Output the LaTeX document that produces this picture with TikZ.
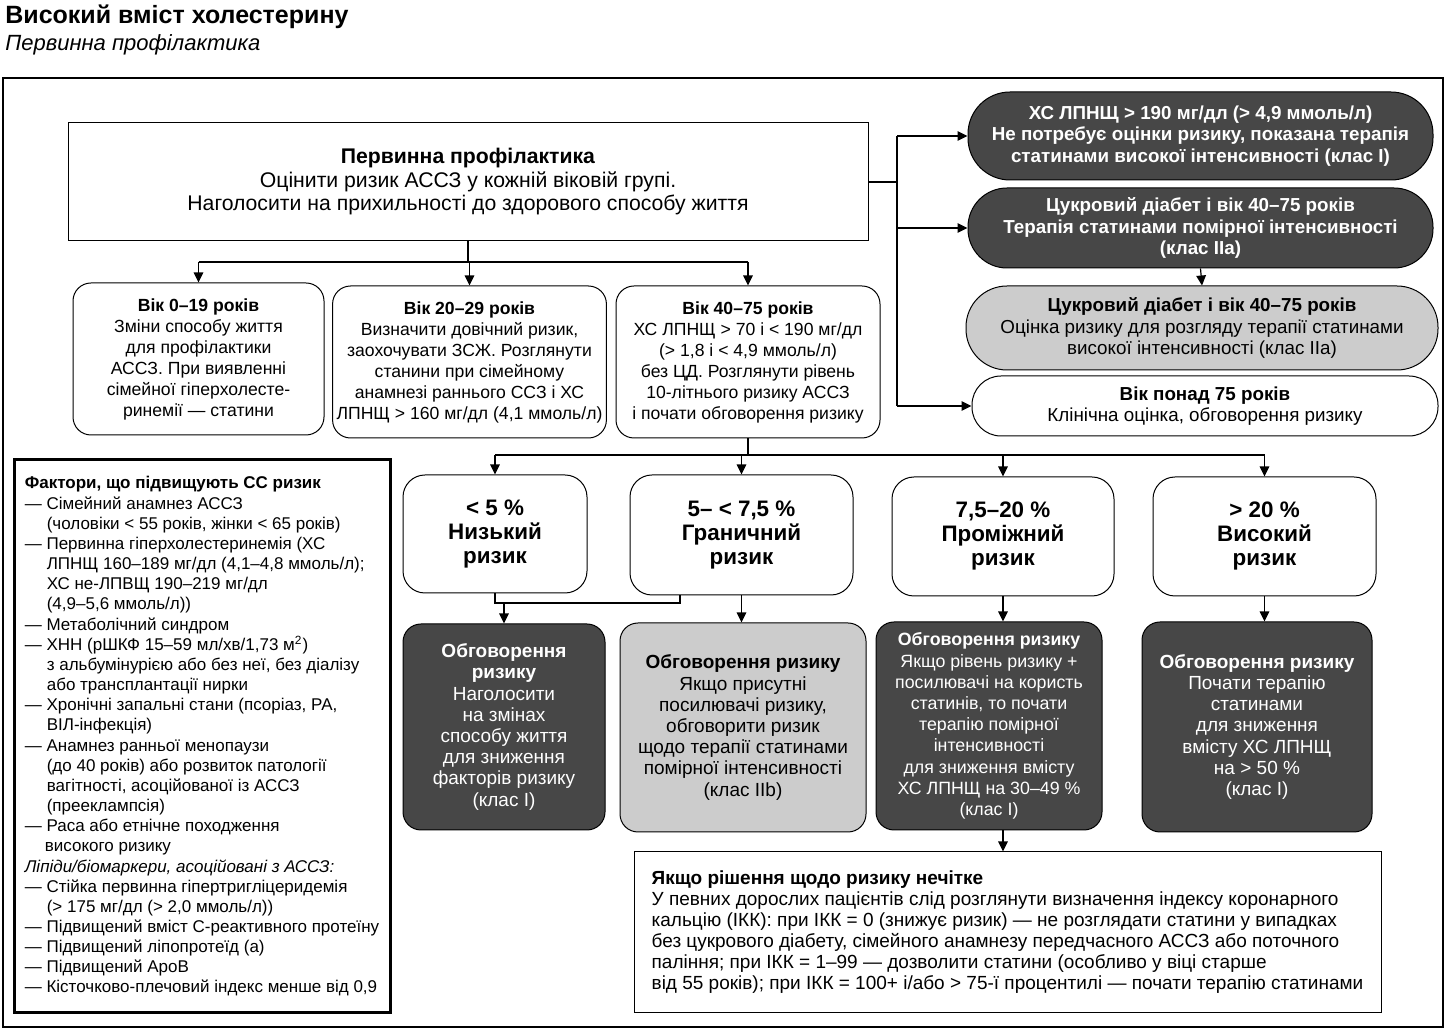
\documentclass[tikz,border=0pt]{standalone}
\usepackage{fontspec}
\setmainfont{Liberation Sans}
\usetikzlibrary{arrows.meta}
\definecolor{boxdark}{HTML}{474747}
\definecolor{boxgrey}{HTML}{CCCCCC}

\begin{document}
\begin{tikzpicture}[x=0.5pt,y=-0.5pt,
  plainbox/.style={draw, line width=0.5pt, align=center, inner sep=2pt},
  agebox/.style={plainbox, rounded corners=9pt, font=\fontsize{8.8}{10.5}\selectfont},
  pill/.style={plainbox, rounded corners=#1, font=\fontsize{9.4}{10.6}\selectfont},
  darkpill/.style={pill=#1, fill=boxdark, text=white, font=\bfseries\fontsize{9.4}{10.9}\selectfont},
  riskbox/.style={plainbox, rounded corners=11pt, font=\bfseries\fontsize{11.2}{12}\selectfont},
  talkbox/.style={plainbox, rounded corners=9pt, font=\fontsize{9.5}{10.6}\selectfont},
  darkfill/.style={fill=boxdark, text=white},
  greyfill/.style={fill=boxgrey},
  arr/.style={-{Triangle[length=5pt,width=4.8pt]}, line width=0.6pt},
  link/.style={line width=0.6pt}]
  \useasboundingbox (0,0) rectangle (1448,1031);

  % Title and frame
  \node (title) [anchor=base west, inner sep=0pt, font=\bfseries\fontsize{12.5}{15}\selectfont] at (5,24) {Високий вміст холестерину};
  \node (subtitle) [anchor=base west, inner sep=0pt, font=\itshape\fontsize{11}{13}\selectfont] at (5,51) {Первинна профілактика};
  \draw[line width=0.75pt] (3,78) rectangle (1443,1027);

  % Define nodes
  \node (prim) [plainbox, minimum width=400pt, minimum height=59pt, font=\fontsize{10.6}{11.75}\selectfont] at (468,182)
    {\textbf{Первинна профілактика}\\Оцінити ризик АССЗ у кожній віковій групі.\\Наголосити на прихильності до здорового способу життя};

  \node (ldl) [darkpill=21pt, minimum width=232.5pt, minimum height=44pt] at (1200.5,136)
    {ХС ЛПНЩ > 190 мг/дл (> 4,9 ммоль/л)\\Не потребує оцінки ризику, показана терапія\\статинами високої інтенсивності (клас І)};
  \node (dm1) [darkpill=19.5pt, minimum width=232.5pt, minimum height=40pt] at (1200.5,228)
    {Цукровий діабет і вік 40–75 років\\Терапія статинами помірної інтенсивності\\(клас ІІа)};
  \node (dm2) [pill=20.5pt, greyfill, minimum width=236pt, minimum height=42pt] at (1202,328)
    {\textbf{Цукровий діабет і вік 40–75 років}\\Оцінка ризику для розгляду терапії статинами\\високої інтенсивності (клас ІІа)};
  \node (old) [pill=14.5pt, minimum width=233pt, minimum height=30pt] at (1205,406)
    {\textbf{Вік понад 75 років}\\Клінічна оцінка, обговорення ризику};

  \node (ageA) [agebox, minimum width=125.5pt, minimum height=76pt] at (198.5,359)
    {\textbf{Вік 0–19 років}\\Зміни способу життя\\для профілактики\\АССЗ. При виявленні\\сімейної гіперхолесте-\\ринемії — статини};
  \node (ageB) [agebox, minimum width=136.5pt, minimum height=76pt] at (469.5,362)
    {\textbf{Вік 20–29 років}\\Визначити довічний ризик,\\заохочувати ЗСЖ. Розглянути\\станини при сімейному\\анамнезі раннього ССЗ і ХС\\ЛПНЩ > 160 мг/дл (4,1 ммоль/л)};
  \node (ageC) [agebox, minimum width=132pt, minimum height=76pt] at (748,362)
    {\textbf{Вік 40–75 років}\\ХС ЛПНЩ > 70 і < 190 мг/дл\\(> 1,8 і < 4,9 ммоль/л)\\без ЦД. Розглянути рівень\\10-літнього ризику АССЗ\\і почати обговорення ризику};

  \node (rlow) [riskbox, minimum width=92pt, minimum height=59pt] at (495,534) {< 5 \%\\Низький\\ризик};
  \node (rbord) [riskbox, minimum width=111.5pt, minimum height=60pt] at (741.5,535) {5– < 7,5 \%\\Граничний\\ризик};
  \node (rmid) [riskbox, minimum width=111pt, minimum height=59.5pt] at (1003,536.5) {7,5–20 \%\\Проміжний\\ризик};
  \node (rhigh) [riskbox, minimum width=111.5pt, minimum height=59.5pt] at (1264.5,536.5) {> 20 \%\\Високий\\ризик};

  \node (dlow) [talkbox, darkfill, minimum width=101pt, minimum height=103pt] at (504,727)
    {\textbf{Обговорення}\\\textbf{ризику}\\Наголосити\\на змінах\\способу життя\\для зниження\\факторів ризику\\(клас І)};
  \node (dbord) [talkbox, greyfill, minimum width=123pt, minimum height=104.5pt] at (743,727.5)
    {\textbf{Обговорення ризику}\\Якщо присутні\\посилювачі ризику,\\обговорити ризик\\щодо терапії статинами\\помірної інтенсивності\\(клас ІІb)};
  \node (dmid) [talkbox, darkfill, minimum width=113pt, minimum height=104pt, font=\fontsize{8.9}{10.6}\selectfont] at (989,726)
    {\textbf{Обговорення ризику}\\Якщо рівень ризику +\\посилювачі на користь\\статинів, то почати\\терапію помірної\\інтенсивності\\для зниження вмісту\\ХС ЛПНЩ на 30–49 \%\\(клас І)};
  \node (dhigh) [talkbox, darkfill, minimum width=115pt, minimum height=105pt] at (1257,727)
    {\textbf{Обговорення ризику}\\Почати терапію\\статинами\\для зниження\\вмісту ХС ЛПНЩ\\на > 50 \%\\(клас І)};

  \node (cac) [plainbox, align=left, minimum width=373.5pt, minimum height=80.5pt, font=\fontsize{9.5}{10.5}\selectfont] at (1007.5,932.5)
    {\textbf{Якщо рішення щодо ризику нечітке}\\
     У певних дорослих пацієнтів слід розглянути визначення індексу коронарного\\
     кальцію (ІКК): при ІКК = 0 (знижує ризик) — не розглядати статини у випадках\\
     без цукрового діабету, сімейного анамнезу передчасного АССЗ або поточного\\
     паління; при ІКК = 1–99 — дозволити статини (особливо у віці старше\\
     від 55 років); при ІКК = 100+ і/або > 75-ї процентилі — почати терапію статинами};

  \node (fac) [plainbox, line width=1.5pt, align=left, minimum width=188pt, minimum height=276.5pt, font=\fontsize{8.5}{10.08}\selectfont] at (202,736.5)
    {\textbf{Фактори, що підвищують СС ризик}\\
     — Сімейний анамнез АССЗ\\
     \hspace*{11pt}(чоловіки < 55 років, жінки < 65 років)\\
     — Первинна гіперхолестеринемія (ХС\\
     \hspace*{11pt}ЛПНЩ 160–189 мг/дл (4,1–4,8 ммоль/л);\\
     \hspace*{11pt}ХС не-ЛПВЩ 190–219 мг/дл\\
     \hspace*{11pt}(4,9–5,6 ммоль/л))\\
     — Метаболічний синдром\\
     — ХНН (рШКФ 15–59 мл/хв/1,73 м\textsuperscript{2})\\
     \hspace*{11pt}з альбумінурією або без неї, без діалізу\\
     \hspace*{11pt}або трансплантації нирки\\
     — Хронічні запальні стани (псоріаз, РА,\\
     \hspace*{11pt}ВІЛ-інфекція)\\
     — Анамнез ранньої менопаузи\\
     \hspace*{11pt}(до 40 років) або розвиток патології\\
     \hspace*{11pt}вагітності, асоційованої із АССЗ\\
     \hspace*{11pt}(прееклампсія)\\
     — Раса або етнічне походження\\
     \hspace*{10pt}високого ризику\\
     \textit{Ліпіди/біомаркери, асоційовані з АССЗ:}\\
     — Стійка первинна гіпертригліцеридемія\\
     \hspace*{11pt}(> 175 мг/дл (> 2,0 ммоль/л))\\
     — Підвищений вміст С-реактивного протеїну\\
     — Підвищений ліпопротеїд (а)\\
     — Підвищений ApoB\\
     — Кісточково-плечовий індекс менше від 0,9};

  % Draw edges
  \coordinate (rbus) at (897,182);
  \draw[link] (prim.east) -- (rbus);
  \draw[link] (rbus |- ldl.west) -- (rbus |- old.west);
  \draw[arr] (rbus |- ldl.west) -- (ldl.west);
  \draw[arr] (rbus |- dm1.west) -- (dm1.west);
  \draw[arr] (rbus |- old.west) -- (old.west);
  \draw[arr] (dm1.south) -- (dm2.north);

  \coordinate (agebus) at (468,262);
  \draw[link] (prim.south) -- (agebus);
  \draw[link] (agebus -| ageA.north) -- (agebus -| ageC.north);
  \foreach \n in {ageA,ageB,ageC}
    \draw[arr] (agebus -| \n.north) -- (\n.north);

  \coordinate (riskbus) at (748,455);
  \draw[link] (ageC.south) -- (riskbus);
  \draw[link] (riskbus -| rlow.north) -- (riskbus -| rhigh.north);
  \foreach \n in {rlow,rbord,rmid,rhigh}
    \draw[arr] (riskbus -| \n.north) -- (\n.north);

  \coordinate (lowjoin) at (498,603);
  \coordinate (bordfoot) at ([xshift=-30.75pt]rbord.south);
  \draw[link] (rlow.south) -- (rlow.south |- lowjoin) -- (lowjoin -| bordfoot) -- (bordfoot);
  \draw[arr] (dlow.north |- lowjoin) -- (dlow.north);
  \draw[arr] (rbord.south) -- (rbord.south |- dbord.north);
  \draw[arr] (rmid.south) -- (rmid.south |- dmid.north);
  \draw[arr] (rhigh.south) -- (rhigh.south |- dhigh.north);
  \draw[arr] (rmid.south |- dmid.south) -- (rmid.south |- cac.north);
\end{tikzpicture}
\end{document}
